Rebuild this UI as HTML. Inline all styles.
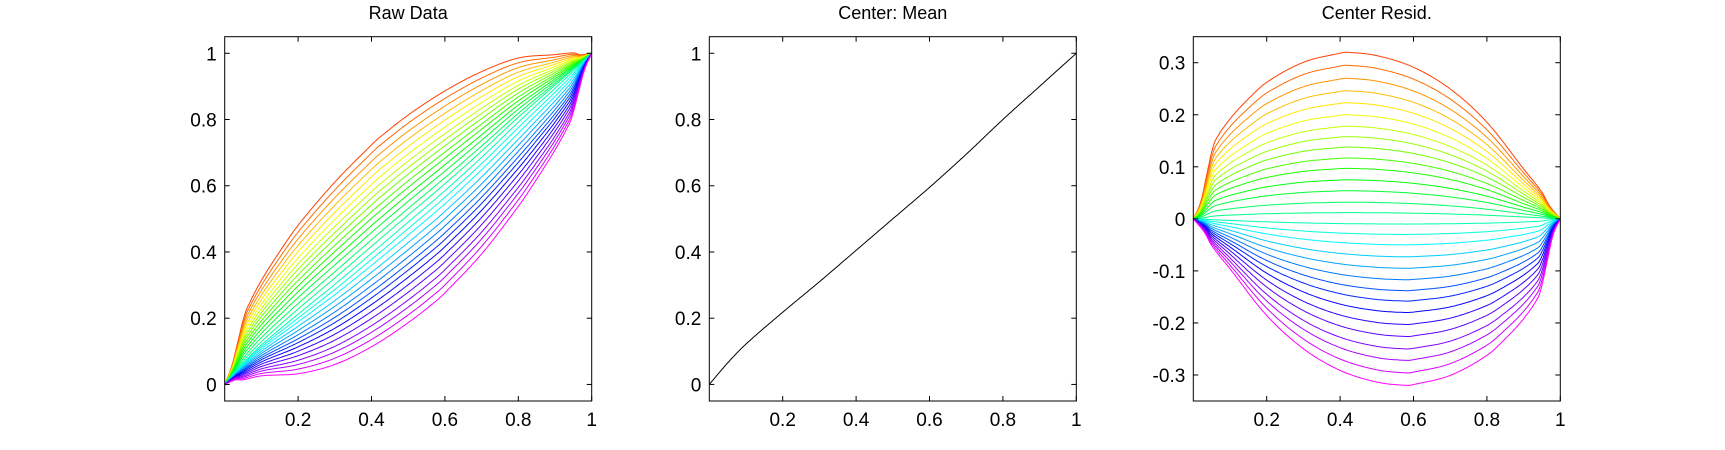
<!DOCTYPE html>
<html><head><meta charset="utf-8"><style>
html,body{margin:0;padding:0;background:#fff;}
svg{display:block;font-family:"Liberation Sans",Arial,sans-serif;}
</style></head><body>
<svg id="fig" width="1725" height="450" viewBox="0 0 1725 450"></svg>
<script>
// ---- data ----
const meanX = [0,0.05,0.1,0.2,0.3,0.4,0.5,0.6,0.7,0.8,0.9,0.95,1];
const meanY = [0,0.065,0.122,0.218,0.31,0.405,0.5,0.595,0.695,0.8,0.9,0.95,1];
const shapeX = [0,0.02,0.04,0.05,0.06,0.1,0.15,0.2,0.3,0.4,0.42,0.5,0.6,0.7,0.8,0.9,0.95,0.97,1];
const shapeY = [0,0.1,0.3,0.4,0.47,0.6,0.72,0.82,0.94,0.995,1,0.98,0.91,0.78,0.58,0.3,0.16,0.08,0];
const residAmps = [0.32,0.295,0.27,0.246,0.223,0.2,0.178,0.158,0.138,0.117,0.097,0.075,0.054,0.032,0.012,-0.01,-0.03,-0.05,-0.073,-0.095,-0.117,-0.138,-0.158,-0.18,-0.203,-0.226,-0.25,-0.272,-0.296,-0.32];
const xTicks = [0.2,0.4,0.6,0.8,1];
const xTickLabels = ["0.2","0.4","0.6","0.8","1"];
const yTicksRaw = [0,0.2,0.4,0.6,0.8,1];
const yTickLabelsRaw = ["0","0.2","0.4","0.6","0.8","1"];
const yTicksRes = [-0.3,-0.2,-0.1,0,0.1,0.2,0.3];
const yTickLabelsRes = ["-0.3","-0.2","-0.1","0","0.1","0.2","0.3"];
const titles = ["Raw Data","Center: Mean","Center Resid."];

const NS="http://www.w3.org/2000/svg";
const svg=document.getElementById('fig');
function mk(tag,attrs,parent){const e=document.createElementNS(NS,tag);for(const k in attrs)e.setAttribute(k,attrs[k]);(parent||svg).appendChild(e);return e;}
function interp(xs,ys,x){
  const n=xs.length;
  let i=1;while(i<n-1&&x>xs[i])i++;
  const x0=xs[i-1],x1=xs[i],y0=ys[i-1],y1=ys[i];
  const t=(x-x0)/(x1-x0);
  const m0=i-2>=0?(ys[i]-ys[i-2])/(xs[i]-xs[i-2]):(y1-y0)/(x1-x0);
  const m1=i+1<n?(ys[i+1]-ys[i-1])/(xs[i+1]-xs[i-1]):(y1-y0)/(x1-x0);
  const h=x1-x0,t2=t*t,t3=t2*t;
  return (2*t3-3*t2+1)*y0+(t3-2*t2+t)*h*m0+(-2*t3+3*t2)*y1+(t3-t2)*h*m1;
}
function resid(a,x){return a>=0? a*interp(shapeX,shapeY,x) : a*interp(shapeX,shapeY,1-x);}
function hsl(k,n){const h=15+(285*k/(n-1));return `hsl(${h},100%,50%)`;}

const W=367, TOP=36.7, BOT=401;
const lefts=[224.7,709.3,1193.3];
const ylims=[[-0.05,1.05],[-0.05,1.05],[-0.35,0.35]];
const names=["raw-data","center-mean","center-resid"];
const grid=[];for(let i=0;i<=300;i++)grid.push(i/300);

for(let p=0;p<3;p++){
  const L=lefts[p];const [y0,y1]=ylims[p];
  const sx=v=>L+v*W; const sy=v=>BOT-(v-y0)/(y1-y0)*(BOT-TOP);
  const g=mk('g',{});
  
  
  const t=mk('text',{x:L+W/2,y:19,'text-anchor':'middle','font-size':'18'},g);t.textContent=titles[p];
  
  
  const plot=mk('g',{fill:'none','stroke-width':'1'},g);
  
  
  if(p===1){
    const d=grid.map((x,i)=>(i?'L':'M')+sx(x).toFixed(1)+','+sy(interp(meanX,meanY,x)).toFixed(1)).join('');
    const pl=mk('path',{d,stroke:'#000'},plot);
    
    
  } else {
    residAmps.forEach((a,k)=>{
      const d=grid.map((x,i)=>{let v=resid(a,x);if(p===0)v+=interp(meanX,meanY,x);return (i?'L':'M')+sx(x).toFixed(1)+','+sy(v).toFixed(1);}).join('');
      const pl=mk('path',{d,stroke:hsl(k,residAmps.length)},plot);
      
      
    });
  }
  const fr=mk('rect',{x:L,y:TOP,width:W,height:BOT-TOP,fill:'none',stroke:'#000','stroke-width':'1'},g);
  
  
  xTicks.forEach((v,i)=>{
    const x=sx(v);
    mk('line',{x1:x,y1:BOT,x2:x,y2:BOT-5,stroke:'#000'},g);
    mk('line',{x1:x,y1:TOP,x2:x,y2:TOP+5,stroke:'#000'},g);
    const tl=mk('text',{x:x,y:426,'text-anchor':'middle','font-size':'19'},g);tl.textContent=xTickLabels[i];
    
    
  });
  const yt=p===2?yTicksRes:yTicksRaw, yl=p===2?yTickLabelsRes:yTickLabelsRaw;
  yt.forEach((v,i)=>{
    const y=sy(v);
    mk('line',{x1:L,y1:y,x2:L+5,y2:y,stroke:'#000'},g);
    mk('line',{x1:L+W,y1:y,x2:L+W-5,y2:y,stroke:'#000'},g);
    const tl=mk('text',{x:L-8,y:y+7,'text-anchor':'end','font-size':'19'},g);tl.textContent=yl[i];
    
    
  });
}
</script>
</body></html>
